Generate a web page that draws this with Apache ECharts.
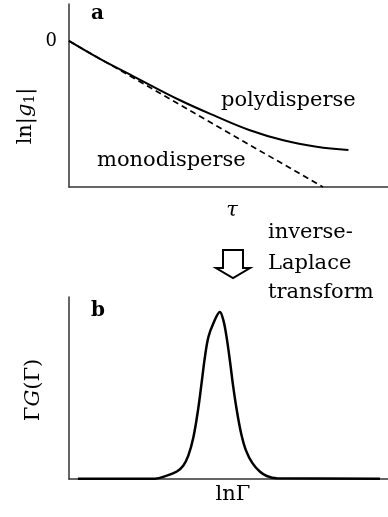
<!DOCTYPE html>
<html>
<head>
<meta charset="utf-8">
<script src="https://cdn.jsdelivr.net/npm/echarts@6/dist/echarts.min.js"></script>
<style>
  html, body { margin: 0; padding: 0; background: #fff; }
  #chart { width: 388px; height: 517px; }
</style>
</head>
<body>
<div id="chart"></div>
<script>
// Panel a: ln|g1| versus delay time tau (x scaled 0..1)
const tauPoly = [0, 0.097, 0.202, 0.348, 0.463, 0.567, 0.672, 0.776, 0.876];
const lnG1Poly = [0, -0.123, -0.242, -0.406, -0.518, -0.611, -0.68, -0.724, -0.747];
const tauMono = [0, 0.796];
const lnG1Mono = [0, -1];

// Panel b: distribution Gamma*G(Gamma) versus ln Gamma
const lnGamma = [0.028, 0.270, 0.306, 0.338, 0.358, 0.374, 0.390, 0.405, 0.416, 0.426, 0.437, 0.452,
  0.473, 0.484, 0.494, 0.505, 0.515, 0.527, 0.540, 0.555, 0.575, 0.598, 0.620, 0.651, 0.975];
const gammaG = [0.002, 0.002, 0.020, 0.045, 0.080, 0.140, 0.250, 0.420, 0.580, 0.730, 0.850, 0.930,
  1.0, 0.950, 0.850, 0.700, 0.550, 0.400, 0.270, 0.170, 0.095, 0.045, 0.018, 0.004, 0.002];

const yTicksA = [0];

const FONT = 'DejaVu Serif';
const FS = 21;
const zip = (xs, ys) => xs.map((x, i) => [x, ys[i]]);
const axisLine = { show: true, onZero: false, lineStyle: { color: '#333', width: 1.5 } };

const chart = echarts.init(document.getElementById('chart'), null, { renderer: 'canvas' });

const txt = (text, x, y, size, extra) => ({
  type: 'text', x: x, y: y,
  style: Object.assign({ text: text, font: size + 'px "' + FONT + '"', fill: '#000',
    align: 'left', verticalAlign: 'middle' }, extra || {})
});

chart.setOption({
  animation: false,
  backgroundColor: '#fff',
  grid: [
    { left: 69, right: 0, top: 4, height: 183 },
    { left: 69, right: 0, top: 297, height: 182 }
  ],
  xAxis: [
    { gridIndex: 0, type: 'value', min: 0, max: 1, axisLine: axisLine, axisTick: { show: false },
      axisLabel: { show: false }, splitLine: { show: false } },
    { gridIndex: 1, type: 'value', min: 0, max: 1, axisLine: axisLine, axisTick: { show: false },
      axisLabel: { show: false }, splitLine: { show: false } }
  ],
  yAxis: [
    { gridIndex: 0, type: 'value', min: -1, max: 0.253, interval: 1, axisLine: axisLine,
      axisTick: { show: false }, splitLine: { show: false },
      axisLabel: { show: true, margin: 12, fontFamily: FONT, fontSize: 18, color: '#000',
        showMaxLabel: false,
        formatter: v => (yTicksA.indexOf(v) >= 0 ? String(v) : '') } },
    { gridIndex: 1, type: 'value', min: 0, max: 1.09, axisLine: axisLine,
      axisTick: { show: false }, splitLine: { show: false }, axisLabel: { show: false } }
  ],
  series: [
    { type: 'line', xAxisIndex: 0, yAxisIndex: 0, data: zip(tauMono, lnG1Mono), symbol: 'none',
      lineStyle: { color: '#000', width: 1.7, type: [6, 4] } },
    { type: 'line', xAxisIndex: 0, yAxisIndex: 0, data: zip(tauPoly, lnG1Poly), symbol: 'none',
      smooth: 0.4, lineStyle: { color: '#000', width: 2 } },
    { type: 'line', xAxisIndex: 1, yAxisIndex: 1, data: zip(lnGamma, gammaG), symbol: 'none',
      smooth: 0.35, lineStyle: { color: '#000', width: 2.5 } }
  ],
  graphic: [
    txt('a', 91, 14, 20, { font: 'bold 20px "' + FONT + '"' }),
    txt('b', 91, 311, 20, { font: 'bold 20px "' + FONT + '"' }),
    txt('polydisperse', 221, 101, FS),
    txt('monodisperse', 97, 161, FS),
    txt('τ', 232, 211, FS, { align: 'center', font: 'italic ' + FS + 'px "' + FONT + '"' }),
    txt('lnΓ', 233, 495, FS, { align: 'center' }),
    txt('inverse-', 268, 233, FS),
    txt('Laplace', 268, 264, FS),
    txt('transform', 268, 293, FS),
    {
      type: 'text', x: 26, y: 116, rotation: Math.PI / 2,
      style: {
        text: 'ln|{i|g}{s|1}|', align: 'center', verticalAlign: 'middle',
        font: FS + 'px "' + FONT + '"', fill: '#000',
        rich: {
          i: { font: 'italic ' + FS + 'px "' + FONT + '"', fill: '#000' },
          s: { font: '14px "' + FONT + '"', fill: '#000', verticalAlign: 'bottom', padding: [8, 0, 0, 0] }
        }
      }
    },
    {
      type: 'text', x: 34, y: 390, rotation: Math.PI / 2,
      style: {
        text: 'Γ{i|G}(Γ)', align: 'center', verticalAlign: 'middle',
        font: FS + 'px "' + FONT + '"', fill: '#000',
        rich: { i: { font: 'italic ' + FS + 'px "' + FONT + '"', fill: '#000' } }
      }
    },
    {
      type: 'polygon',
      shape: { points: [[223, 250], [243, 250], [243, 268], [250, 268], [233, 278], [216, 268], [223, 268]] },
      style: { fill: '#fff', stroke: '#000', lineWidth: 2 }
    }
  ]
});
</script>
</body>
</html>
